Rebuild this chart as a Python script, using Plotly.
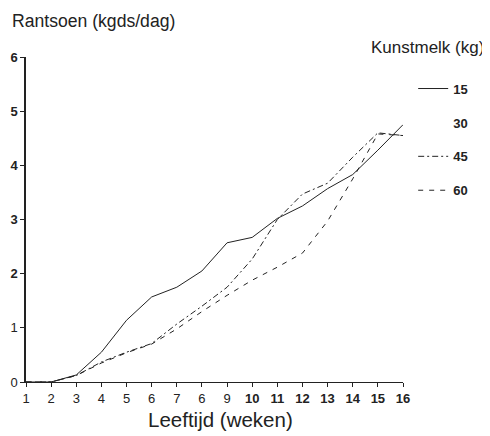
import plotly.graph_objects as go

weeks = list(range(1, 17))
tick_labels = ["1", "2", "3", "4", "5", "6", "7", "6", "9",
               "<b>10</b>", "<b>11</b>", "<b>12</b>", "<b>13</b>", "<b>14</b>", "<b>15</b>", "<b>16</b>"]
y_ticks = [0, 1, 2, 3, 4, 5, 6]
y_tick_labels = ["0", "1", "<b>2</b>", "<b>3</b>", "<b>4</b>", "<b>5</b>", "<b>6</b>"]

melk15 = [0, 0, 0.13, 0.55, 1.14, 1.57, 1.75, 2.05, 2.57, 2.67, 3.02, 3.25, 3.57, 3.83, 4.28, 4.75]
# the 30 kg series is not visible in the reference (only its legend label is)
melk30 = [None, None, None, None, None, None, None, None,
          None, None, None, None, None, None, None, None]
melk45 = [0, 0, 0.12, 0.37, 0.55, 0.71, 1.07, 1.40, 1.75, 2.27, 3.00, 3.47, 3.67, 4.15, 4.60, 4.55]
melk60 = [0, 0, 0.12, 0.35, 0.54, 0.70, 0.98, 1.30, 1.60, 1.88, 2.12, 2.38, 2.97, 3.75, 4.58, 4.55]

FONT = "Liberation Sans, Arial, sans-serif"
INK = "#222222"

fig = go.Figure()
fig.add_trace(go.Scatter(x=weeks, y=melk15, mode="lines", name="<b>15</b>", legendgroup="a",
                         line=dict(color=INK, width=1, dash="solid")))
fig.add_trace(go.Scatter(x=weeks, y=melk30, mode="lines", name="<b>30</b>", legendgroup="b",
                         line=dict(color="rgba(0,0,0,0)", width=1)))
fig.add_trace(go.Scatter(x=weeks, y=melk45, mode="lines", name="<b>45</b>", legendgroup="c",
                         line=dict(color=INK, width=1, dash="6px,3px,2px,3px")))
fig.add_trace(go.Scatter(x=weeks, y=melk60, mode="lines", name="<b>60</b>", legendgroup="d",
                         line=dict(color=INK, width=1, dash="5px,6px")))

# page body adds an 8px margin; size and margins compensate for it
fig.update_layout(
    width=482, height=428,
    margin=dict(l=18, r=87, t=49, b=54, autoexpand=False),
    paper_bgcolor="white", plot_bgcolor="white",
    font=dict(family=FONT, color=INK),
    showlegend=True,
    legend=dict(x=1.027, y=0.949, xanchor="left", yanchor="top",
                font=dict(size=13, family=FONT, color=INK),
                tracegroupgap=14, bgcolor="rgba(0,0,0,0)"),
    xaxis=dict(range=[1, 16], tickvals=weeks, ticktext=tick_labels, automargin=False,
               showgrid=False, zeroline=False, showline=True, linecolor=INK, linewidth=1,
               ticks="outside", ticklen=4, tickcolor=INK, tickfont=dict(size=13, color=INK)),
    yaxis=dict(range=[0, 6], tickvals=y_ticks, ticktext=y_tick_labels, automargin=False,
               showgrid=False, zeroline=False, showline=True, linecolor=INK, linewidth=1.5,
               ticks="outside", ticklen=4, tickcolor=INK, tickfont=dict(size=13, color=INK)),
    annotations=[
        dict(text="Rantsoen (kgds/dag)", xref="paper", yref="paper", x=-0.0424, y=1.0,
             xanchor="left", yanchor="bottom", yshift=24, showarrow=False,
             font=dict(size=17.6, family=FONT, color=INK)),
        dict(text="Kunstmelk (kg)", xref="paper", yref="paper", x=1.22, y=1.0,
             xanchor="right", yanchor="middle", yshift=10, showarrow=False,
             font=dict(size=17, family=FONT, color=INK)),
        dict(text="Leeftijd (weken)", xref="paper", yref="paper", x=0.515, y=0,
             xanchor="center", yanchor="top", yshift=-24, showarrow=False,
             font=dict(size=20.5, family=FONT, color=INK)),
    ],
)

fig.write_html("out.html")
